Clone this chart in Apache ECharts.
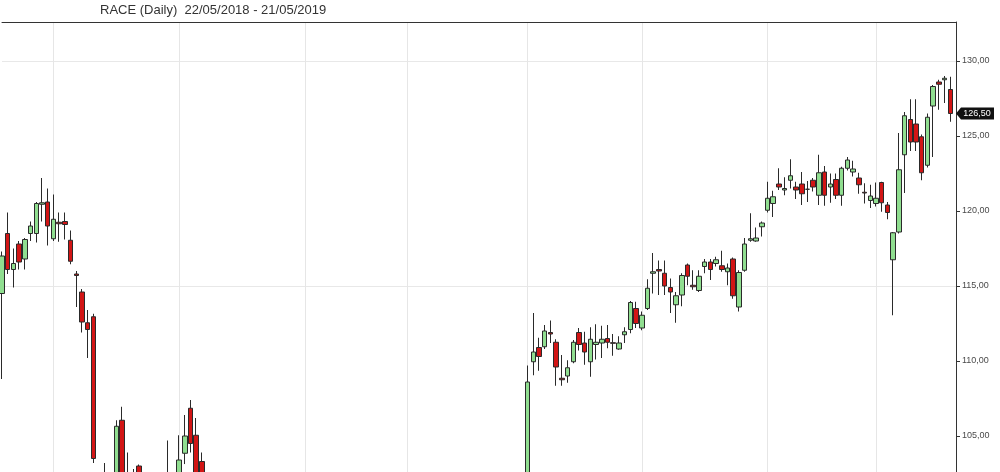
<!DOCTYPE html>
<html>
<head>
<meta charset="utf-8">
<script src="https://cdn.jsdelivr.net/npm/echarts@6/dist/echarts.min.js"></script>
<style>
  html, body { margin: 0; padding: 0; background: #fff; }
  #chart { width: 1000px; height: 472px; }
</style>
</head>
<body>
<div id="chart"></div>
<script>
const _ = null;
const titleText = 'RACE (Daily)  22/05/2018 - 21/05/2019';
// trading-day slots (index 167 is the empty slot at the price axis)
const categories = Array.from({ length: 168 }, (v, i) => String(i));
// first trading day of each month (vertical grid lines)
const monthStarts = [9, 31, 53, 71, 92, 112, 134, 153];
const yTicks = [105, 110, 115, 120, 125, 130];
const yGrid = [115, 130];
const lastPrice = 126.5;

const opens = [
  114.5, 118.5, 116.1, 117.8, 116.8, 118.5, 118.5, 120.45, 120.6, 118.15,
  119.25, 119.3, 118.05, 115.8, 114.6, 112.55, 112.95, _, 101.0, _,
  101.8, 106.05, 101.5, 100.5, 103.0, _, _, _, _, 101.2,
  _, 101.0, 103.85, 106.85, 105.05, 103.3, _, _, _, _,
  _, _, _, _, _, _, _, _, _, _,
  _, _, _, _, _, _, _, _, _, _,
  _, _, _, _, _, _, _, _, _, _,
  _, _, _, _, _, _, _, _, _, _,
  _, _, _, _, _, _, _, _, _, _,
  _, _, 101.2, 109.95, 110.9, 110.95, 111.9, 111.25, 108.85, 109.0,
  109.95, 111.9, 111.2, 109.95, 111.1, 111.2, 111.5, 111.22, 110.8, 111.75,
  112.1, 113.5, 112.2, 113.5, 115.85, 116.1, 115.85, 114.9, 113.75, 114.4,
  116.4, 115.05, 114.7, 116.3, 116.6, 116.5, 116.35, 115.95, 116.8, 113.6,
  116.05, 118.05, 118.0, 118.95, 120.05, 120.5, 121.8, 121.4, 122.05, 121.6,
  121.8, 121.45, 122.05, 121.05, 122.6, 121.6, 122.1, 121.05, 122.85, 122.6,
  122.2, 121.25, 120.7, 120.5, 121.9, 120.4, 116.75, 118.6, 123.75, 126.1,
  125.8, 124.95, 123.05, 127.0, 128.6, 128.75, 128.1
];
const highs = [
  117.3, 119.9, 117.5, 118.0, 118.2, 119.3, 120.6, 122.2, 121.5, 121.1,
  119.9, 119.9, 118.7, 116.0, 114.8, 113.4, 113.15, _, 103.2, _,
  106.05, 106.95, 103.9, 102.8, 103.1, _, _, _, _, 104.7,
  _, 105.05, 106.4, 107.4, 106.2, 103.9, _, _, _, _,
  _, _, _, _, _, _, _, _, _, _,
  _, _, _, _, _, _, _, _, _, _,
  _, _, _, _, _, _, _, _, _, _,
  _, _, _, _, _, _, _, _, _, _,
  _, _, _, _, _, _, _, _, _, _,
  _, _, 109.7, 113.2, 111.55, 112.4, 112.7, 111.45, 110.4, 110.05,
  111.4, 112.2, 111.95, 112.25, 112.45, 112.35, 112.4, 111.8, 111.65, 112.25,
  114.0, 113.95, 113.3, 115.45, 117.2, 116.7, 116.7, 115.5, 114.6, 115.85,
  116.5, 116.05, 116.05, 116.8, 116.8, 116.95, 117.35, 116.5, 116.9, 116.05,
  118.2, 119.85, 118.9, 119.3, 121.95, 121.35, 122.85, 122.25, 123.45, 121.95,
  122.6, 122.0, 122.2, 123.75, 123.0, 122.5, 122.5, 122.95, 123.6, 123.35,
  122.55, 121.85, 121.75, 121.9, 121.95, 120.6, 118.6, 125.2, 126.6, 127.45,
  127.45, 125.1, 126.5, 128.4, 128.75, 129.0, 128.95
];
const lows = [
  108.8, 115.8, 114.9, 116.1, 116.1, 118.0, 117.9, 119.3, 117.7, 118.0,
  117.95, 118.1, 116.45, 113.6, 111.9, 110.2, 103.2, _, 100.2, _,
  101.5, 101.0, 100.3, 99.8, 99.5, _, _, _, _, 100.8,
  _, 100.6, 103.13, 103.9, 101.9, 100.5, _, _, _, _,
  _, _, _, _, _, _, _, _, _, _,
  _, _, _, _, _, _, _, _, _, _,
  _, _, _, _, _, _, _, _, _, _,
  _, _, _, _, _, _, _, _, _, _,
  _, _, _, _, _, _, _, _, _, _,
  _, _, 100.9, 109.05, 109.35, 110.8, 111.2, 108.35, 108.35, 108.55,
  109.85, 110.7, 109.75, 108.95, 110.1, 110.2, 110.85, 110.35, 110.75, 111.2,
  111.85, 112.2, 112.05, 113.4, 114.5, 114.4, 114.4, 113.2, 112.55, 113.65,
  115.05, 114.75, 114.6, 115.85, 115.4, 116.3, 115.95, 115.05, 114.15, 113.3,
  115.95, 117.95, 117.95, 118.3, 119.9, 119.6, 121.4, 121.05, 121.5, 120.8,
  120.4, 120.6, 121.3, 120.4, 120.35, 120.55, 120.8, 120.35, 122.7, 122.3,
  121.15, 120.5, 120.2, 120.3, 119.95, 119.45, 113.05, 118.5, 121.2, 124.0,
  124.0, 122.05, 122.9, 123.6, 126.75, 127.2, 125.95
];
const closes = [
  117.0, 116.1, 116.5, 116.6, 118.1, 119.0, 120.5, 120.55, 119.0, 119.45,
  119.15, 119.1, 116.65, 115.7, 112.6, 112.1, 103.5, _, 102.0, _,
  105.65, 101.6, 100.8, 101.0, 100.0, _, _, _, _, 101.9,
  _, 103.4, 105.0, 104.5, 102.3, 101.0, _, _, _, _,
  _, _, _, _, _, _, _, _, _, _,
  _, _, _, _, _, _, _, _, _, _,
  _, _, _, _, _, _, _, _, _, _,
  _, _, _, _, _, _, _, _, _, _,
  _, _, _, _, _, _, _, _, _, _,
  _, _, 108.6, 110.6, 110.3, 112.0, 111.8, 109.6, 108.75, 109.55,
  111.25, 111.1, 110.6, 111.45, 111.25, 111.45, 111.25, 111.18, 111.2, 111.95,
  113.9, 112.5, 113.05, 114.85, 115.95, 116.0, 115.0, 114.6, 114.35, 115.7,
  115.65, 114.95, 115.65, 116.6, 116.1, 116.75, 116.1, 116.2, 114.35, 115.9,
  117.8, 118.15, 118.2, 119.2, 120.85, 120.95, 121.6, 121.5, 122.35, 121.4,
  121.15, 121.45, 121.6, 122.55, 121.05, 121.8, 121.05, 122.85, 123.4, 122.8,
  121.75, 121.2, 121.0, 120.85, 120.55, 119.9, 118.55, 122.75, 126.35, 124.6,
  124.6, 122.55, 126.25, 128.3, 128.45, 128.85, 126.5
];

if ([opens, highs, lows, closes].some(a => a.length !== 167)) {
  console.error('length mismatch', opens.length, highs.length, lows.length, closes.length);
}

const fmt = v => Number(v).toFixed(2).replace('.', ',');

const ohlc = categories.map((c, i) => {
  if (i >= opens.length || opens[i] === null) return '-';
  return [opens[i], closes[i], lows[i], highs[i]];
});

const chart = echarts.init(document.getElementById('chart'), null, { renderer: 'canvas' });
chart.setOption({
  animation: false,
  backgroundColor: '#ffffff',
  title: {
    text: titleText,
    left: 100,
    top: 4,
    padding: 0,
    textStyle: { fontFamily: 'Liberation Sans, Arial, sans-serif', fontSize: 13, fontWeight: 'normal', color: '#333333' }
  },
  grid: { left: 2, right: 44, top: 22, bottom: 0, containLabel: false },
  xAxis: {
    type: 'category',
    data: categories,
    position: 'top',
    boundaryGap: false,
    axisLine: { show: true, lineStyle: { color: '#333333', width: 1 } },
    axisTick: { show: false },
    axisLabel: { show: false },
    splitLine: {
      show: true,
      interval: (idx) => monthStarts.includes(idx),
      lineStyle: { color: '#e6e6e6', width: 1 }
    }
  },
  yAxis: [
    {
      type: 'value',
      position: 'right',
      min: 102.6,
      max: 132.6,
      scale: true,
      axisLine: { show: true, lineStyle: { color: '#333333', width: 1 } },
      axisTick: { show: true, inside: false, length: 4, customValues: yTicks, lineStyle: { color: '#333333' } },
      axisLabel: {
        show: true,
        customValues: yTicks,
        margin: 6,
        formatter: fmt,
        fontFamily: 'Liberation Sans, Arial, sans-serif',
        fontSize: 9,
        color: '#4a4a4a'
      },
      splitLine: { show: false }
    },
    {
      type: 'value',
      position: 'right',
      min: 102.6,
      max: 132.6,
      scale: true,
      axisLine: { show: false },
      axisTick: { show: false, customValues: yGrid },
      axisLabel: { show: false, customValues: yGrid },
      splitLine: { show: true, lineStyle: { color: '#e8e8e8', width: 1 } }
    }
  ],
  series: [{
    type: 'candlestick',
    data: ohlc,
    yAxisIndex: 0,
    barWidth: 5,
    clip: true,
    itemStyle: {
      color: '#90de90',
      color0: '#d21515',
      borderColor: '#2a2a2a',
      borderColor0: '#2a2a2a',
      borderWidth: 1
    },
    markPoint: {
      silent: true,
      symbol: 'path://M0,6 L5,0 L38,0 L38,12 L5,12 Z',
      symbolSize: [38, 12],
      symbolOffset: [19, 0],
      itemStyle: { color: '#111111' },
      label: {
        show: true,
        position: 'inside',
        offset: [2, 0],
        color: '#ffffff',
        fontFamily: 'Liberation Sans, Arial, sans-serif',
        fontSize: 9,
        formatter: (p) => fmt(p.value)
      },
      data: [{ coord: [categories.length - 1, lastPrice], value: lastPrice }]
    }
  }]
});
</script>
</body>
</html>
